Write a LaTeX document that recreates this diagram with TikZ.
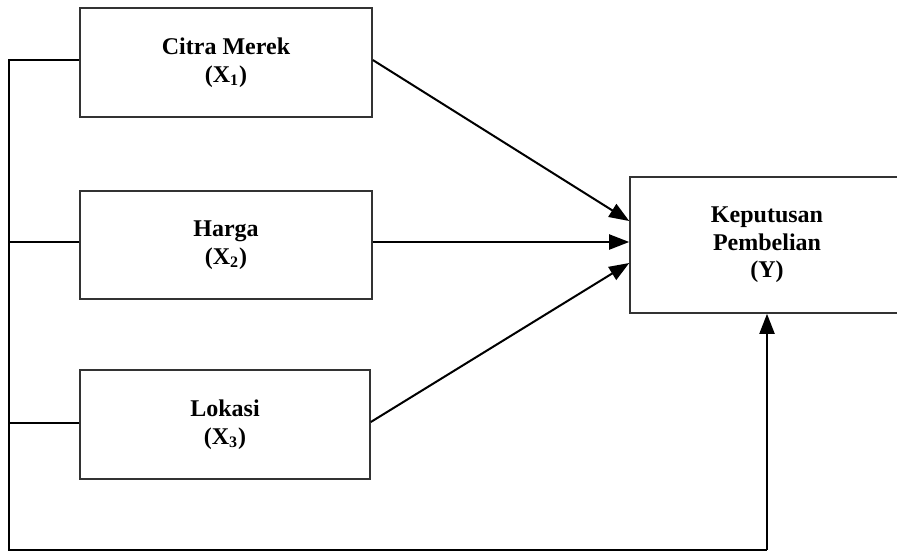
\documentclass[tikz,border=0pt]{standalone}
\usepackage{fontspec}
\setmainfont{Liberation Serif}
\usetikzlibrary{arrows.meta}
\begin{document}
\begin{tikzpicture}[x=0.5pt,y=-0.5pt,
  box/.style={draw=black!80, line width=0.8pt, rectangle, align=center,
    font=\fontsize{12}{13.8}\selectfont\bfseries, inner sep=0pt},
  conn/.style={line width=1pt, black},
  arr/.style={conn, -{Triangle[length=10pt,width=7.5pt]}}]
\useasboundingbox (0,0) rectangle (897,552);
\node[box, minimum width=146pt, minimum height=54.5pt] (X1) at (226,62.5) {Citra Merek\\(X\textsubscript{1})};
\node[box, minimum width=146pt, minimum height=54pt] (X2) at (226,245) {Harga\\(X\textsubscript{2})};
\node[box, minimum width=145pt, minimum height=54.5pt] (X3) at (225,424.5) {Lokasi\\(X\textsubscript{3})};
\node[box, minimum width=137pt, minimum height=68pt] (Y) at (767,245) {Keputusan\\Pembelian\\(Y)};
\coordinate (c1) at (9,60);
\coordinate (c2) at (9,242);
\coordinate (c3) at (9,423);
\coordinate (cb) at (9,550);
\coordinate (cr) at (767,550);
\coordinate (s1) at (X1.east |- 0,60);
\coordinate (s3) at (X3.east |- 0,422);
\coordinate (t1) at (Y.west |- 0,221);
\coordinate (t2) at (Y.west |- 0,242);
\coordinate (t3) at (Y.west |- 0,263);
\draw[conn] (X1.west |- c1) -- (c1) -- (cb) -- (cr);
\draw[arr] (cr) -- (Y.south);
\draw[conn] (X2.west |- c2) -- (c2);
\draw[conn] (X3.west |- c3) -- (c3);
\draw[arr] (s1) -- (t1);
\draw[arr] (X2.east |- t2) -- (t2);
\draw[arr] (s3) -- (t3);
\end{tikzpicture}
\end{document}
